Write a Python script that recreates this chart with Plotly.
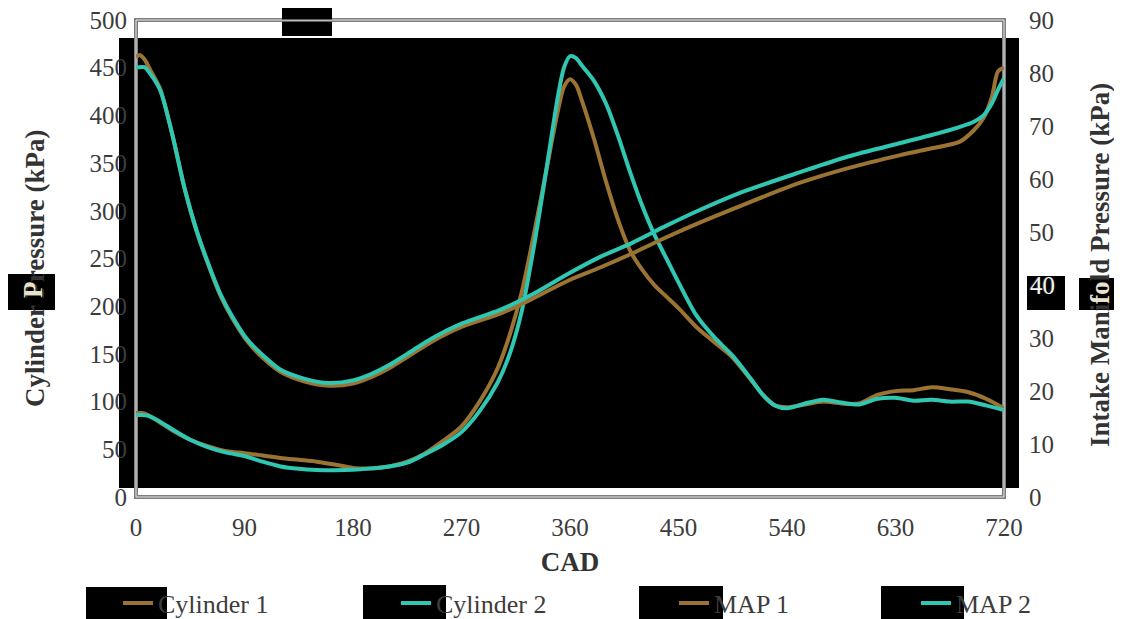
import plotly.graph_objects as go

# ---------------- data ----------------
CAD_CYL = [0, 5, 10, 20, 30, 45, 60, 75, 90, 105, 120, 135, 150, 165, 180, 195, 210, 225, 240,
           255, 270, 285, 300, 310, 320, 330, 340, 350, 355, 360, 365, 370, 380, 390, 400, 410,
           420, 430, 440, 450, 465, 480, 495, 510, 520, 530, 540, 555, 570, 585, 600, 615, 630,
           645, 660, 675, 690, 705, 720]

CYLINDER_1 = [88, 88, 86, 78, 70, 60, 53, 48, 46, 43.5, 41, 39, 37, 34, 30.5, 30, 32, 37, 46,
              59, 74, 100, 135, 170, 215, 275, 340, 405, 430, 438, 432, 415, 375, 330, 290, 258,
              238, 222, 210, 198, 178, 162, 146, 123, 107, 96, 94, 97, 100, 98, 98, 107, 111,
              112, 115, 113, 110, 103, 93]

CYLINDER_2 = [86, 86, 85, 79, 71, 60, 52, 46.5, 43, 37, 32, 29.5, 28.3, 28, 28.5, 30, 32, 36, 45,
              55, 68, 90, 120, 150, 195, 262, 340, 420, 450, 462, 460, 452, 436, 412, 378, 340,
              305, 275, 250, 225, 190, 167, 148, 124, 107, 96, 93, 98, 102, 99, 97, 103, 104,
              101, 102, 100, 100, 96, 91]

CAD_MAP = [0, 3, 7, 12, 20, 30, 40, 50, 60, 70, 80, 92, 105, 120, 140, 160, 180, 195, 210, 225,
           246, 270, 302, 327, 360, 385, 412, 440, 468, 500, 551, 590, 634, 660, 683, 695, 703,
           710, 715, 720]

MAP_1 = [83, 83.4, 82.6, 80.5, 77, 68.5, 58.5, 50.3, 43.8, 38, 33.7, 29.5, 26.3, 23.6, 21.8, 21,
         21.4, 22.6, 24.3, 26.4, 29.4, 32.1, 34.6, 37.2, 41, 43.3, 46, 49, 51.8, 54.8, 59.3, 62,
         64.5, 65.8, 67, 69.2, 71.5, 75.5, 80.3, 81]

MAP_2 = [81.1, 81.1, 81.1, 79.8, 76.8, 68.5, 58.5, 50.5, 44, 38.3, 34, 29.8, 26.8, 24, 22.3, 21.5,
         22, 23.2, 24.9, 27, 30, 32.7, 35.3, 38, 42.3, 45.3, 48, 51.2, 54.2, 57.3, 61.3, 64.2,
         66.8, 68.3, 69.8, 70.8, 72, 74.3, 76.8, 79]

X_TICKS = [0, 90, 180, 270, 360, 450, 540, 630, 720]

# ---------------- style ----------------
BROWN = "#9b7433"
TEAL = "#2fc6b2"
FONT = "Liberation Serif"
TXT = "#3c3c3c"
OFF = 8  # page body margin
W, H = 1122 - OFF, 619 - OFF
ML, MR, MT, MB = 128, 118, 12, 122
# plot area in page pixels: x 136..1004, y 20..497
P_L, P_R, P_T, P_B = 136, 1004, 20, 497


def px(x):
    return (x - P_L) / (P_R - P_L)


def py(y):
    return (P_B - y) / (P_B - P_T)


fig = go.Figure()
fig.add_trace(go.Scatter(x=CAD_CYL, y=CYLINDER_1, name="Cylinder 1", mode="lines",
                         line=dict(color=BROWN, width=4, shape="spline", smoothing=0.8),
                         legend="legend", showlegend=True))
fig.add_trace(go.Scatter(x=CAD_CYL, y=CYLINDER_2, name="Cylinder 2", mode="lines",
                         line=dict(color=TEAL, width=4, shape="spline", smoothing=0.8),
                         legend="legend2", showlegend=True))
fig.add_trace(go.Scatter(x=CAD_MAP, y=MAP_1, name="MAP 1", mode="lines", yaxis="y2",
                         line=dict(color=BROWN, width=4, shape="spline", smoothing=0.8),
                         legend="legend3", showlegend=True))
fig.add_trace(go.Scatter(x=CAD_MAP, y=MAP_2, name="MAP 2", mode="lines", yaxis="y2",
                         line=dict(color=TEAL, width=4, shape="spline", smoothing=0.8),
                         legend="legend4", showlegend=True))

shapes = []


def box(x0, y0, x1, y1, color="black"):
    shapes.append(dict(type="rect", xref="paper", yref="paper", x0=px(x0), x1=px(x1),
                       y0=py(y1), y1=py(y0), fillcolor=color, line=dict(width=0),
                       layer="below"))


# black plot background (offset from axis frame)
box(119, 38, 1019, 488)
# axis frame (double gray line)
shapes.append(dict(type="rect", xref="paper", yref="paper", x0=0, x1=1, y0=0, y1=1,
                   line=dict(color="#7d7d7d", width=4), layer="below"))
shapes.append(dict(type="rect", xref="paper", yref="paper", x0=0, x1=1, y0=0, y1=1,
                   line=dict(color="#e6e6e6", width=1), layer="below"))
# redaction boxes
box(282, 7, 332, 36)
shapes.append(dict(type="line", xref="paper", yref="paper", x0=px(282), x1=px(332),
                   y0=py(20.5), y1=py(20.5), line=dict(color="#bdbdbd", width=2), layer="below"))
box(8, 274, 55, 310)
box(1027, 276, 1065, 310)
box(1079, 278, 1121, 310)
# legend boxes
box(86, 587, 167, 619)
box(363, 585, 446, 619)
box(639, 586, 723, 619)
box(881, 586, 964, 619)

legend_common = dict(orientation="h", yanchor="middle", xanchor="left", y=py(603),
                     bgcolor="rgba(0,0,0,0)", borderwidth=0,
                     font=dict(family=FONT, size=26, color=TXT))

title_font = dict(family=FONT, size=27, color="#333333")
axis_font = dict(family=FONT, size=25, color=TXT)

annotations = [
    dict(text="<b>Cylinder Pressure (kPa)</b>", xref="paper", yref="paper", x=px(35),
         y=py(268), textangle=-90, xanchor="center", yanchor="middle", showarrow=False,
         font=title_font),
    dict(text="<b>Intake Manifold Pressure (kPa)</b>", xref="paper", yref="paper", x=px(1100),
         y=py(265), textangle=-90, xanchor="center", yanchor="middle", showarrow=False,
         font=title_font),
    dict(text="40", xref="paper", yref="y2", x=px(1028), y=40, xanchor="left",
         yanchor="middle", showarrow=False, font=dict(family=FONT, size=25, color="#f2f2f2")),
    dict(text="<b>P</b>", xref="paper", yref="paper", x=px(33), y=py(290), textangle=-90,
         xanchor="center", yanchor="middle",
         showarrow=False, font=dict(family=FONT, size=27, color="#e8e2cc")),
    dict(text="<b>fo</b>", xref="paper", yref="paper", x=px(1100), y=py(293), textangle=-90,
         xanchor="center", yanchor="middle",
         showarrow=False, font=dict(family=FONT, size=27, color="#e8e2cc")),
]

fig.update_layout(
    width=W, height=H,
    margin=dict(l=ML, r=MR, t=MT, b=MB, autoexpand=False),
    paper_bgcolor="white",
    plot_bgcolor="rgba(0,0,0,0)",
    showlegend=True,
    shapes=shapes,
    annotations=annotations,
    legend=dict(legend_common, x=px(118)),
    legend2=dict(legend_common, x=px(396)),
    legend3=dict(legend_common, x=px(674)),
    legend4=dict(legend_common, x=px(916)),
    xaxis=dict(range=[0, 720], tickvals=X_TICKS, showgrid=False, zeroline=False,
               showline=False, ticks="outside", ticklen=8, tickcolor="rgba(0,0,0,0)",
               tickfont=axis_font, ticklabeloverflow="allow",
               title=dict(text="<b>CAD</b>", font=title_font, standoff=12)),
    yaxis=dict(range=[0, 500], dtick=50, showgrid=False, zeroline=False, showline=False,
               ticks="outside", ticklen=3, tickcolor="rgba(0,0,0,0)", tickfont=axis_font,
               ticklabeloverflow="allow"),
    yaxis2=dict(range=[0, 90], dtick=10, overlaying="y", side="right", showgrid=False,
                zeroline=False, showline=False, ticks="outside", ticklen=19,
                tickcolor="rgba(0,0,0,0)", tickfont=axis_font, ticklabeloverflow="allow"),
)

fig.write_html("out.html")
